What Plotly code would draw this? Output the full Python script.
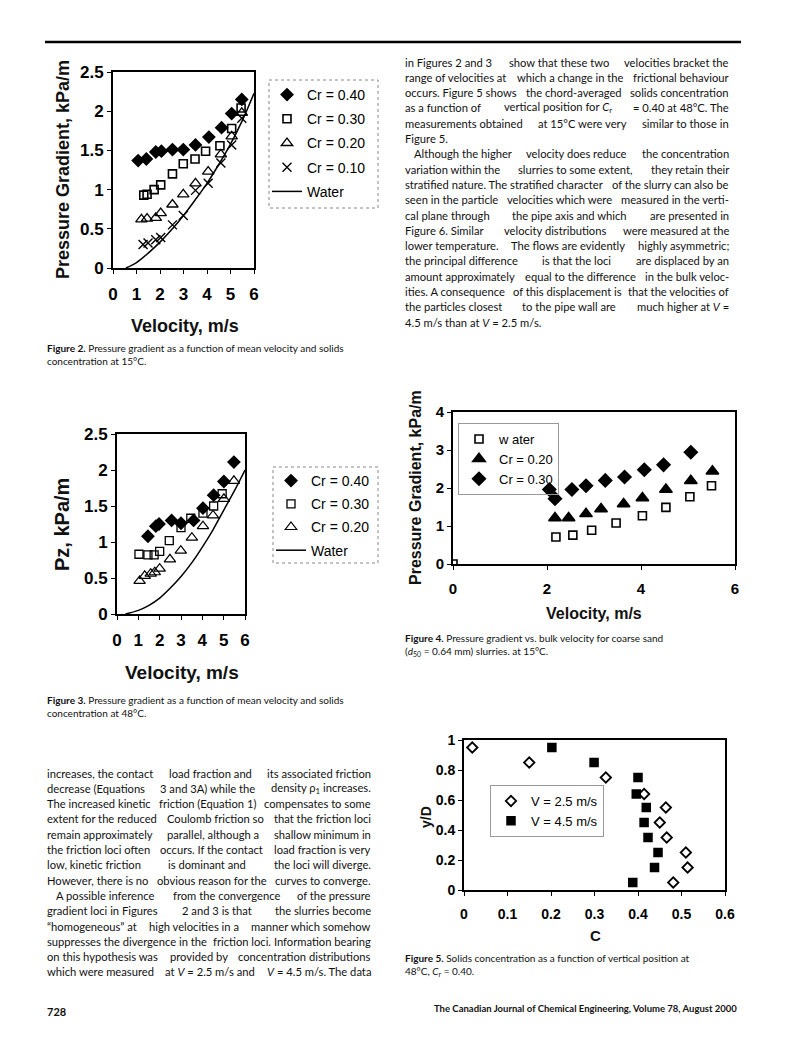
import re
import plotly.graph_objects as go

W, H = 787, 1051

# ---------------- DATA ----------------
# Figure 2 (15 C)
f2_v40 = [1.07, 1.42, 1.82, 2.06, 2.53, 2.99, 3.51, 4.08, 4.62, 5.05, 5.48]
f2_p40 = [1.37, 1.39, 1.48, 1.49, 1.51, 1.51, 1.57, 1.67, 1.79, 1.97, 2.15]
f2_v30 = [1.31, 1.45, 1.75, 2.03, 2.53, 2.99, 3.49, 3.94, 4.55, 5.05, 5.45]
f2_p30 = [0.93, 0.94, 1.00, 1.06, 1.20, 1.33, 1.39, 1.49, 1.56, 1.78, 2.04]
f2_v20 = [1.21, 1.45, 1.82, 2.03, 2.53, 2.99, 3.51, 4.05, 4.59, 5.05, 5.48]
f2_p20 = [0.62, 0.63, 0.64, 0.70, 0.81, 0.94, 1.08, 1.23, 1.45, 1.68, 1.98]
f2_v10 = [1.28, 1.49, 1.82, 2.03, 2.53, 2.99, 3.51, 4.05, 4.59, 5.05, 5.48]
f2_p10 = [0.30, 0.32, 0.36, 0.39, 0.55, 0.67, 0.99, 1.08, 1.34, 1.57, 1.91]
f2_vw = [0.55, 1.0, 1.5, 2.0, 2.5, 3.0, 3.5, 4.0, 4.5, 5.0, 5.5, 6.0]
f2_pw = [0.0, 0.07, 0.19, 0.33, 0.49, 0.67, 0.87, 1.08, 1.32, 1.58, 1.88, 2.23]

# Figure 3 (48 C)
f3_v40 = [1.45, 1.82, 1.97, 2.56, 3.00, 3.59, 4.03, 4.53, 5.01, 5.48]
f3_p40 = [1.08, 1.22, 1.25, 1.30, 1.26, 1.30, 1.47, 1.65, 1.84, 2.11]
f3_v30 = [1.03, 1.45, 1.74, 2.00, 2.45, 3.00, 3.46, 4.03, 4.53, 4.93]
f3_p30 = [0.83, 0.82, 0.82, 0.87, 1.02, 1.20, 1.33, 1.40, 1.50, 1.67]
f3_v20 = [1.06, 1.30, 1.58, 1.77, 2.00, 2.48, 2.99, 3.51, 4.03, 4.50, 5.01, 5.48]
f3_p20 = [0.46, 0.53, 0.56, 0.58, 0.63, 0.76, 0.88, 1.06, 1.22, 1.37, 1.60, 1.85]
f3_vw = [0.4, 1.0, 1.5, 2.0, 2.5, 3.0, 3.5, 4.0, 4.5, 5.0, 5.5, 6.0]
f3_pw = [0.0, 0.05, 0.12, 0.22, 0.36, 0.52, 0.71, 0.93, 1.17, 1.44, 1.71, 2.0]

# Figure 4 (coarse sand, 15 C)
f4_vw = [0.0, 2.19, 2.55, 2.95, 3.47, 4.03, 4.53, 5.04, 5.50]
f4_pw = [0.0, 0.71, 0.76, 0.89, 1.08, 1.27, 1.49, 1.77, 2.06]
f4_v20 = [2.17, 2.46, 2.83, 3.15, 3.63, 4.03, 4.53, 5.06, 5.52]
f4_p20 = [1.21, 1.21, 1.32, 1.45, 1.58, 1.74, 1.96, 2.19, 2.44]
f4_v30 = [2.05, 2.17, 2.53, 2.83, 3.24, 3.65, 4.07, 4.48, 5.06]
f4_p30 = [1.96, 1.72, 1.96, 2.06, 2.20, 2.29, 2.48, 2.61, 2.94]

# Figure 5 (concentration profiles)
f5_yd = [0.95, 0.85, 0.75, 0.64, 0.55, 0.45, 0.35, 0.25, 0.15, 0.05]
f5_c25 = [0.019, 0.150, 0.326, 0.414, 0.464, 0.450, 0.466, 0.510, 0.514, 0.481]
f5_c45 = [0.202, 0.299, 0.400, 0.396, 0.419, 0.414, 0.423, 0.446, 0.438, 0.388]

# Text (flag: J = justified line, L = last line of paragraph, I = indented first line)
right_col = [
    ("J", "in Figures 2 and 3 show that these two velocities bracket the"),
    ("J", "range of velocities at which a change in the frictional behaviour"),
    ("J", "occurs. Figure 5 shows the chord-averaged solids concentration"),
    ("J", "as a function of vertical position for <i>C</i><sub>r</sub> = 0.40 at 48°C. The"),
    ("J", "measurements obtained at 15°C were very similar to those in"),
    ("L", "Figure 5."),
    ("I", "Although the higher velocity does reduce the concentration"),
    ("J", "variation within the slurries to some extent, they retain their"),
    ("J", "stratified nature. The stratified character of the slurry can also be"),
    ("J", "seen in the particle velocities which were measured in the verti-"),
    ("J", "cal plane through the pipe axis and which are presented in"),
    ("J", "Figure 6. Similar velocity distributions were measured at the"),
    ("J", "lower temperature. The flows are evidently highly asymmetric;"),
    ("J", "the principal difference is that the loci are displaced by an"),
    ("J", "amount approximately equal to the difference in the bulk veloc-"),
    ("J", "ities. A consequence of this displacement is that the velocities of"),
    ("J", "the particles closest to the pipe wall are much higher at <i>V</i> ="),
    ("L", "4.5 m/s than at <i>V</i> = 2.5 m/s."),
]
left_col = [
    ("J", "increases, the contact load fraction and its associated friction"),
    ("J", "decrease (Equations 3 and 3A) while the density ρ<sub>1</sub> increases."),
    ("J", "The increased kinetic friction (Equation 1) compensates to some"),
    ("J", "extent for the reduced Coulomb friction so that the friction loci"),
    ("J", "remain approximately parallel, although a shallow minimum in"),
    ("J", "the friction loci often occurs. If the contact load fraction is very"),
    ("J", "low, kinetic friction is dominant and the loci will diverge."),
    ("J", "However, there is no obvious reason for the curves to converge."),
    ("I", "A possible inference from the convergence of the pressure"),
    ("J", "gradient loci in Figures 2 and 3 is that the slurries become"),
    ("J", "“homogeneous” at high velocities in a manner which somehow"),
    ("J", "suppresses the divergence in the friction loci. Information bearing"),
    ("J", "on this hypothesis was provided by concentration distributions"),
    ("J", "which were measured at <i>V</i> = 2.5 m/s and <i>V</i> = 4.5 m/s. The data"),
]
cap2 = ["<b>Figure 2.</b> Pressure gradient as a function of mean velocity and solids",
        "concentration at 15°C."]
cap3 = ["<b>Figure 3.</b> Pressure gradient as a function of mean velocity and solids",
        "concentration at 48°C."]
cap4 = ["<b>Figure 4.</b> Pressure gradient vs. bulk velocity for coarse sand",
        "(<i>d</i><sub>50</sub> = 0.64 mm) slurries. at 15°C."]
cap5 = ["<b>Figure 5.</b> Solids concentration as a function of vertical position at",
        "48°C, <i>C</i><sub>r</sub> = 0.40."]

# ---------------- HELPERS ----------------
def X(px):
    return px / W

def Y(py):
    return 1 - py / H

TXT = "Lato"
AR = "Liberation Sans, Arial"
BODY = 11.2

fig = go.Figure()

def sc(x, y, name, xa, ya, leg, symbol=None, size=9, lw=1.5, line=False):
    if line:
        fig.add_trace(go.Scatter(x=x, y=y, name=name, mode="lines", xaxis=xa, yaxis=ya,
                                 line=dict(color="black", width=1.5, shape="spline"),
                                 legend=leg, legendgroup=name))
    else:
        fig.add_trace(go.Scatter(x=x, y=y, name=name, mode="markers", xaxis=xa, yaxis=ya,
                                 marker=dict(symbol=symbol, size=size, color="black",
                                             line=dict(color="black", width=lw)),
                                 legend=leg, legendgroup=name))

# Figure 2
sc(f2_v40, f2_p40, "Cr = 0.40", "x", "y", "legend", "diamond", 9)
sc(f2_v30, f2_p30, "Cr = 0.30", "x", "y", "legend", "square-open", 8, 1.6)
sc(f2_v20, f2_p20, "Cr = 0.20", "x", "y", "legend", "triangle-up-open", 10, 1.3)
sc(f2_v10, f2_p10, "Cr = 0.10", "x", "y", "legend", "x-thin-open", 9, 1.4)
sc(f2_vw, f2_pw, "Water", "x", "y", "legend", line=True)
# Figure 3
sc(f3_v40, f3_p40, "Cr = 0.40", "x2", "y2", "legend2", "diamond", 9)
sc(f3_v30, f3_p30, "Cr = 0.30", "x2", "y2", "legend2", "square-open", 8, 1.3)
sc(f3_v20, f3_p20, "Cr = 0.20", "x2", "y2", "legend2", "triangle-up-open", 10, 1.2)
sc(f3_vw, f3_pw, "Water", "x2", "y2", "legend2", line=True)
# Figure 4
sc(f4_vw, f4_pw, "w ater", "x3", "y3", "legend3", "square-open", 8, 1.6)
sc(f4_v20, f4_p20, "Cr = 0.20", "x3", "y3", "legend3", "triangle-up", 11)
sc(f4_v30, f4_p30, "Cr = 0.30", "x3", "y3", "legend3", "diamond", 10)
# Figure 5
sc(f5_c25, f5_yd, "V = 2.5 m/s", "x4", "y4", "legend4", "diamond-open", 8, 1.8)
sc(f5_c45, f5_yd, "V = 4.5 m/s", "x4", "y4", "legend4", "square", 8)

def axis(domain, rng, dtick, fs, anchor):
    return dict(domain=domain, range=rng, dtick=dtick, anchor=anchor,
                showline=True, linecolor="black", linewidth=2, mirror=True,
                ticks="outside", ticklen=4, tickwidth=1.2, tickcolor="black",
                showgrid=False, zeroline=False, automargin=False,
                tickfont=dict(family=AR, size=fs, color="black", weight="bold"))

lay = dict(
    width=W, height=H, autosize=False,
    margin=dict(l=0, r=0, t=0, b=0, pad=0, autoexpand=False),
    paper_bgcolor="white", plot_bgcolor="white", showlegend=True,
    xaxis=axis([X(113), X(254)], [0, 6], 1, 17, "y"),
    yaxis=axis([Y(268), Y(72)], [0, 2.5], 0.5, 17, "x"),
    xaxis2=axis([X(117), X(245)], [0, 6], 1, 17, "y2"),
    yaxis2=axis([Y(614), Y(434)], [0, 2.5], 0.5, 17, "x2"),
    xaxis3=axis([X(453), X(735)], [0, 6], 2, 15, "y3"),
    yaxis3=axis([Y(564), Y(412)], [0, 4], 1, 15, "x3"),
    xaxis4=axis([X(464), X(725)], [0, 0.6], 0.1, 14, "y4"),
    yaxis4=axis([Y(890), Y(740)], [0, 1], 0.2, 14, "x4"),
)
for k in ("xaxis", "xaxis2", "xaxis3", "xaxis4"):
    lay[k]["ticklabelstandoff"] = 6

def legend(x, y, gap, border, fs=14):
    return dict(x=X(x), y=Y(y), xanchor="left", yanchor="top", bgcolor="rgba(0,0,0,0)",
                bordercolor="#999" if border else "rgba(0,0,0,0)", borderwidth=1 if border else 0,
                font=dict(family=AR, size=fs, color="black"), tracegroupgap=gap,
                itemwidth=30)

lay["legend"] = legend(267, 79, 3, False)
lay["legend2"] = legend(271, 465, 2, False)
lay["legend3"] = legend(458, 423, 0, True, 13)
lay["legend4"] = legend(490, 785, 0, True, 13)

ann = []
def txt(px, py, s, size=BODY, family=TXT, anchor="left", bold=False, angle=0, color="#111"):
    ann.append(dict(x=X(px), y=Y(py), xref="paper", yref="paper", text=s, showarrow=False,
                    xanchor=anchor, yanchor="middle", textangle=angle,
                    font=dict(family=family, size=size, color=color,
                              weight="bold" if bold else "normal")))

# rough advance widths (em) of the body font, used only to spread justified lines
EM = {" ": .26, ".": .25, ",": .25, ";": .25, ":": .25, "'": .22, "!": .25,
      "i": .25, "l": .25, "j": .25, "t": .33, "f": .31, "r": .35, "(": .3, ")": .3,
      "-": .33, "/": .35, "°": .35, "“": .4, "”": .4, "=": .55, "m": .85, "w": .75,
      "a": .50, "b": .56, "c": .46, "d": .56, "e": .52, "g": .50, "h": .55, "k": .50,
      "n": .55, "o": .55, "p": .56, "q": .56, "s": .43, "u": .55, "v": .50, "x": .50,
      "y": .50, "z": .45, "M": .85, "W": .9, "I": .28, "ρ": .55}

def plain(s):
    return re.sub(r"<[^>]+>", "", s)

def est(s, size=BODY):
    w = 0.0
    for ch in plain(s):
        if ch in EM:
            w += EM[ch]
        elif ch.isdigit():
            w += .53
        elif ch.isupper():
            w += .65
        else:
            w += .52
    return w * size

def jline(x0, x1, py, flag, s, size=BODY):
    # justified line made of left / middle / right pieces
    if flag == "I":
        x0 = x0 + 9
    if flag == "L":
        txt(x0, py, s, size)
        return
    words = s.split(" ")
    total = est(s, size)
    slack = (x1 - x0) - total
    if slack > 14:
        bounds = [total / 3, 2 * total / 3]
        groups, cur, acc = [[], [], []], 0, 0.0
        for w in words:
            mid = acc + est(w, size) / 2
            while cur < 2 and mid > bounds[cur]:
                cur += 1
            groups[cur].append(w)
            acc += est(w + " ", size)
        if all(groups):
            g = [" ".join(gr) for gr in groups]
            wl, wm, wr = est(g[0], size), est(g[1], size), est(g[2], size)
            gap = ((x1 - x0) - wl - wm - wr) / 2
            txt(x0, py, g[0], size, anchor="left")
            txt(x0 + wl + gap + wm / 2, py, g[1], size, anchor="center")
            txt(x1, py, g[2], size, anchor="right")
            return
    acc, cut = 0.0, 1
    for i, w in enumerate(words):
        acc += est(w + " ", size)
        if acc >= total / 2:
            cut = i + 1
            break
    txt(x0, py, " ".join(words[:cut]), size, anchor="left")
    txt(x1, py, " ".join(words[cut:]), size, anchor="right")

# axis titles
txt(63, 170, "Pressure Gradient, kPa/m", 18, AR, "center", True, -90)
txt(185, 326, "Velocity, m/s", 18, AR, "center", True)
txt(62, 525, "Pz, kPa/m", 20, AR, "center", True, -90)
txt(182, 672, "Velocity, m/s", 19, AR, "center", True)
txt(415, 488, "Pressure Gradient, kPa/m", 16, AR, "center", True, -90)
txt(594, 613, "Velocity, m/s", 16, AR, "center", True)
txt(426, 817, "y/D", 14, AR, "center", True, -90)
txt(595, 935, "C", 15, AR, "center", True)

# body text
LH = 15.3
for i, (f, s) in enumerate(right_col):
    jline(403, 731, 62 + i * LH, f, s)
for i, (f, s) in enumerate(left_col):
    jline(45, 373, 773 + i * LH, f, s)

# captions
for i, s in enumerate(cap2):
    txt(45, 348 + i * 13, s, 10)
for i, s in enumerate(cap3):
    txt(45, 700 + i * 13, s, 10)
for i, s in enumerate(cap4):
    txt(403, 638 + i * 13.5, s, 10)
for i, s in enumerate(cap5):
    txt(403, 958 + i * 13.5, s, 10)

# footer
txt(45, 1011, "728", 11, TXT, "left", True)
txt(739, 1008, "The Canadian Journal of Chemical Engineering, Volume 78, August 2000", 9.5, TXT, "right", True)

lay["annotations"] = ann

shapes = [
    dict(type="line", xref="paper", yref="paper", x0=X(45), x1=X(741), y0=Y(42), y1=Y(42),
         line=dict(color="black", width=2.5)),
    dict(type="rect", xref="paper", yref="paper", x0=X(269), x1=X(378), y0=Y(80), y1=Y(208),
         line=dict(color="#888", width=1, dash="dot")),
    dict(type="rect", xref="paper", yref="paper", x0=X(273), x1=X(378), y0=Y(467), y1=Y(563),
         line=dict(color="#888", width=1, dash="dot")),
]
lay["shapes"] = shapes

fig.update_layout(**lay)
fig.write_html(
    "out.html",
    config={"displayModeBar": False},
    post_script=(
        "document.documentElement.style.margin='0';document.body.style.margin='0';"
        "document.documentElement.style.overflow='hidden';document.body.style.overflow='hidden';"
        "var gd=document.getElementById('{plot_id}');gd.style.position='fixed';"
        "gd.style.top='0px';gd.style.left='0px';"
    ),
)
